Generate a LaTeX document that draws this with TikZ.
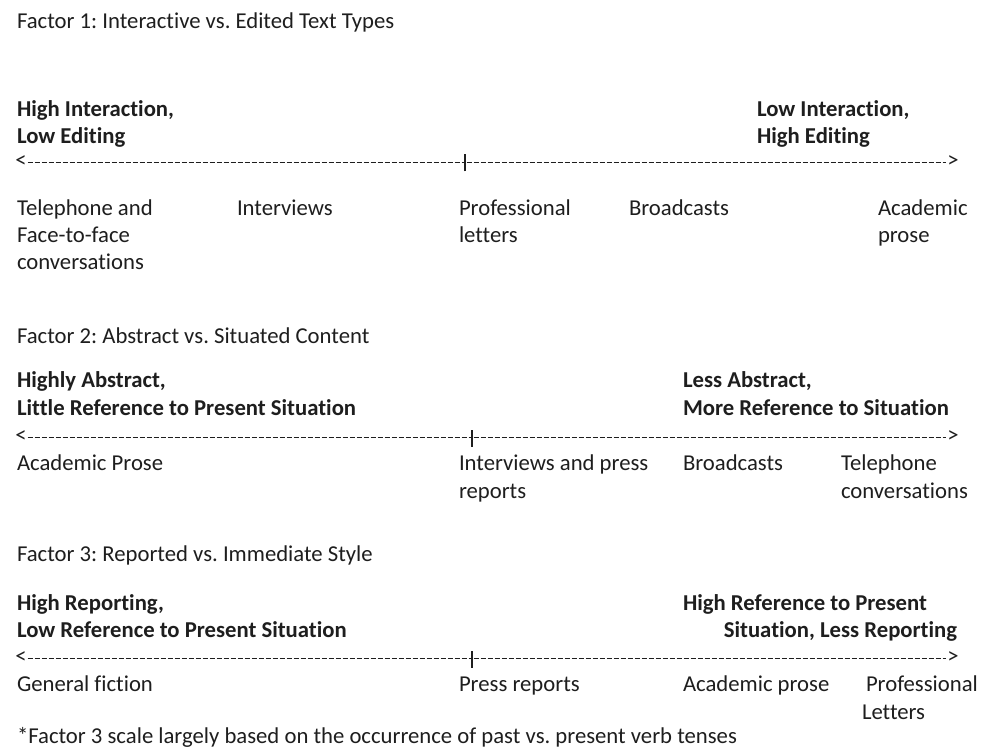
\documentclass[tikz,border=0pt]{standalone}
\usepackage{fontspec}
\setmainfont{Carlito}[Ligatures={NoCommon}]
\frenchspacing
\begin{document}
\begin{tikzpicture}[x=1pt,y=-1pt,
  every node/.style={inner sep=0pt, outer sep=0pt, text=txt},
  lbl/.style={anchor=base west, font=\fontsize{22.7}{27.7}\selectfont},
  blbl/.style={anchor=base west, font=\fontsize{22.7}{27.7}\selectfont\bfseries},
  rlbl/.style={anchor=base east, font=\fontsize{22.7}{27.7}\selectfont\bfseries},
  endmark/.style={font=\fontsize{22.7}{27.7}\selectfont, anchor=center},
  dashline/.style={draw=txt, line width=1pt, dash pattern=on 5pt off 2pt},
  tickmark/.style={draw=txt, line width=1.2pt}]
\definecolor{txt}{HTML}{1E1E1E}
\useasboundingbox[fill=white] (0,0) rectangle (982,751);
\begin{scope}[yshift=-1.5pt]
% ---------- Factor 1 ----------
\node[lbl] (f1) at (17,27) {Factor 1: Interactive vs. Edited Text Types};
\node[blbl] (f1la) at (17,115) {High Interaction,};
\node[blbl] (f1lb) at (17,142) {Low Editing};
\node[blbl] (f1ra) at (757,115) {Low Interaction,};
\node[blbl] (f1rb) at (757,142) {High Editing};

\node[endmark] (a1l) at (21,160) {<};
\node[endmark] (a1r) at (953,160) {>};
\coordinate (m1) at (465,161);
\draw[dashline] (a1l.east) ++(1,1) -- ([xshift=-1.5pt]m1);
\draw[dashline] ([xshift=1.5pt]m1) -- ([xshift=-1pt,yshift=-1pt]a1r.west);
\draw[tickmark] ([yshift=-9]m1) -- ([yshift=8]m1);

\node[lbl] (t1a) at (17,214) {Telephone and};
\node[lbl] (t1b) at (17,241) {Face-to-face};
\node[lbl] (t1c) at (17,268) {conversations};
\node[lbl] (iv1) at (237,214) {Interviews};
\node[lbl] (pl1a) at (459,214) {Professional};
\node[lbl] (pl1b) at (459,241) {letters};
\node[lbl] (bc1) at (629,214) {Broadcasts};
\node[lbl] (ap1a) at (878,214) {Academic};
\node[lbl] (ap1b) at (878,241) {prose};

% ---------- Factor 2 ----------
\node[lbl] (f2) at (17,342) {Factor 2: Abstract vs. Situated Content};
\node[blbl] (f2la) at (17,386) {Highly Abstract,};
\node[blbl] (f2lb) at (17,414) {Little Reference to Present Situation};
\node[blbl] (f2ra) at (683,386) {Less Abstract,};
\node[blbl] (f2rb) at (683,414) {More Reference to Situation};

\node[endmark] (a2l) at (21,435) {<};
\node[endmark] (a2r) at (953,435) {>};
\coordinate (m2) at (472,436);
\draw[dashline] (a2l.east) ++(1,1) -- ([xshift=-1.5pt]m2);
\draw[dashline] ([xshift=1.5pt]m2) -- ([xshift=-1pt,yshift=-1pt]a2r.west);
\draw[tickmark] ([yshift=-9]m2) -- ([yshift=8]m2);

\node[lbl] (ap2) at (17,469) {Academic Prose};
\node[lbl] (ip2a) at (459,469) {Interviews and press};
\node[lbl] (ip2b) at (459,497) {reports};
\node[lbl] (bc2) at (683,469) {Broadcasts};
\node[lbl] (tc2a) at (841,469) {Telephone};
\node[lbl] (tc2b) at (841,497) {conversations};

% ---------- Factor 3 ----------
\node[lbl] (f3) at (17,560) {Factor 3: Reported vs. Immediate Style};
\node[blbl] (f3la) at (17,609) {High Reporting,};
\node[blbl] (f3lb) at (17,636) {Low Reference to Present Situation};
\node[blbl] (f3ra) at (683,609) {High Reference to Present};
\node[rlbl] (f3rb) at (957,636) {Situation, Less Reporting};

\node[endmark] (a3l) at (21,656) {<};
\node[endmark] (a3r) at (953,656) {>};
\coordinate (m3) at (472,657);
\draw[dashline] (a3l.east) ++(1,1) -- ([xshift=-1.5pt]m3);
\draw[dashline] ([xshift=1.5pt]m3) -- ([xshift=-1pt,yshift=-1pt]a3r.west);
\draw[tickmark] ([yshift=-9]m3) -- ([yshift=8]m3);

\node[lbl] (gf3) at (17,690) {General fiction};
\node[lbl] (pr3) at (459,690) {Press reports};
\node[lbl] (ap3) at (683,690) {Academic prose};
\node[lbl] (pl3a) at (866,690) {Professional};
\node[lbl] (pl3b) at (862,718) {Letters};

\node[lbl] (fn) at (17,742) {*Factor 3 scale largely based on the occurrence of past vs. present verb tenses};
\end{scope}
\end{tikzpicture}
\end{document}
